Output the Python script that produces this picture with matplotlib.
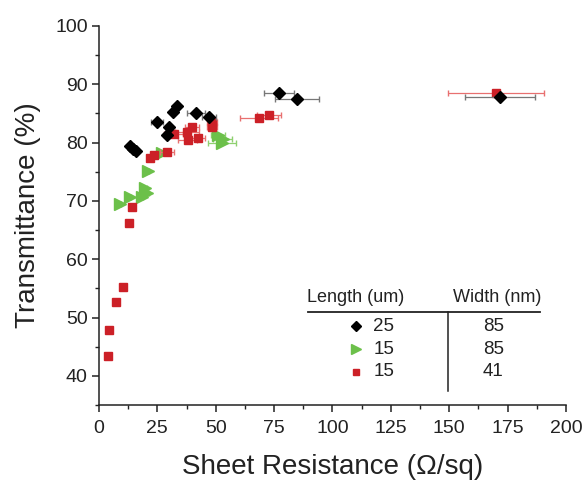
import matplotlib
matplotlib.use("Agg")
from matplotlib import pyplot as plt
from matplotlib.ticker import MultipleLocator

plt.rcParams["font.family"] = ["Liberation Sans", "DejaVu Sans"]

# 25 um length, 85 nm width
black_x = [13.3, 14.6, 15.8, 24.8, 29.0, 30.0, 31.7, 33.4, 41.5, 47.1, 77.0, 84.8, 171.7]
black_y = [79.4, 78.9, 78.5, 83.6, 81.3, 82.7, 85.2, 86.2, 85.0, 84.4, 88.5, 87.5, 87.9]
black_err = [0.8, 0.8, 0.8, 2.5, 1.0, 1.0, 1.0, 1.0, 4.0, 3.0, 6.4, 9.6, 15.0]

# 15 um length, 85 nm width
green_x = [9.0, 13.3, 18.4, 19.7, 20.5, 20.8, 27.2, 51.0, 52.7, 53.0]
green_y = [69.5, 70.7, 70.6, 72.2, 71.4, 75.1, 78.3, 81.3, 79.9, 80.7]
green_err = [0.5, 0.5, 0.5, 1.0, 1.0, 0.5, 2.0, 3.0, 5.8, 4.0]

# 15 um length, 41 nm width
red_x = [3.9, 4.3, 7.3, 10.3, 12.9, 14.0, 21.8, 23.5, 29.0, 32.0, 37.7, 38.0, 39.8,
         42.4, 48.4, 48.4, 68.5, 72.8, 170.0]
red_y = [43.5, 47.8, 52.7, 55.3, 66.3, 69.0, 77.4, 77.9, 78.4, 81.4, 81.8, 80.4, 82.6,
         80.8, 83.5, 82.7, 84.2, 84.7, 88.5]
red_err = [0.3, 0.3, 0.3, 0.3, 0.5, 0.8, 1.0, 1.0, 3.0, 4.0, 5.0, 4.0, 3.0,
           3.0, 2.0, 2.0, 8.0, 5.0, 20.5]

lengths = ["25", "15", "15"]
widths = ["85", "85", "41"]

text_color = "#222222"

fig = plt.figure(figsize=(5.82, 4.8), dpi=100)
ax = fig.add_axes([0.170, 0.156, 0.8025, 0.790])

ax.errorbar(green_x, green_y, xerr=green_err, fmt=">", color="#6cc04a", ms=8,
            ecolor="#8fd070", elinewidth=0.9, capsize=2.5, zorder=3)
ax.errorbar(red_x, red_y, xerr=red_err, fmt="s", color="#cc2027", ms=5.8,
            ecolor="#e87070", elinewidth=0.9, capsize=2.5, zorder=4)
ax.errorbar(black_x, black_y, xerr=black_err, fmt="D", color="black", ms=6.2,
            ecolor="#777777", elinewidth=0.9, capsize=2.5, zorder=5)

ax.set_xlim(0, 200)
ax.set_ylim(35, 100)
ax.xaxis.set_major_locator(MultipleLocator(25))
ax.xaxis.set_minor_locator(MultipleLocator(12.5))
ax.yaxis.set_minor_locator(MultipleLocator(5))
ax.set_yticks(range(40, 101, 10))

ax.spines["top"].set_visible(False)
ax.spines["right"].set_visible(False)
for s in ["left", "bottom"]:
    ax.spines[s].set_color(text_color)
    ax.spines[s].set_linewidth(1.1)

ax.tick_params(which="major", direction="out", length=5, width=1.1, color=text_color,
               labelsize=14, labelcolor=text_color, pad=3)
ax.tick_params(axis="x", which="major", pad=6)
ax.tick_params(which="minor", direction="out", length=3, width=1.0, color=text_color)

ax.set_xlabel("Sheet Resistance (\u03a9/sq)", fontsize=20, color=text_color, labelpad=12)
ax.set_ylabel("Transmittance (%)", fontsize=20, color=text_color, labelpad=10)

# table-style legend
ax.text(110, 53.5, "Length (um)", fontsize=13, color=text_color, ha="center", va="center")
ax.text(170.5, 53.5, "Width (nm)", fontsize=13, color=text_color, ha="center", va="center")
ax.plot([89.5, 189], [51.0, 51.0], color=text_color, lw=1.3)
ax.plot([149.3, 149.3], [51.0, 37.5], color=text_color, lw=1.1)

row_y = [48.5, 44.6, 40.7]
markers = [("D", "black", 5.5), (">", "#6cc04a", 7), ("s", "#cc2027", 5)]
for yy, (m, c, s), ln, wd in zip(row_y, markers, lengths, widths):
    ax.plot([110], [yy], marker=m, color=c, ms=s, ls="none")
    ax.text(117.5, yy, ln, fontsize=13.5, color=text_color, ha="left", va="center")
    ax.text(168.8, yy, wd, fontsize=13.5, color=text_color, ha="center", va="center")

fig.savefig("out.png", dpi=100)
